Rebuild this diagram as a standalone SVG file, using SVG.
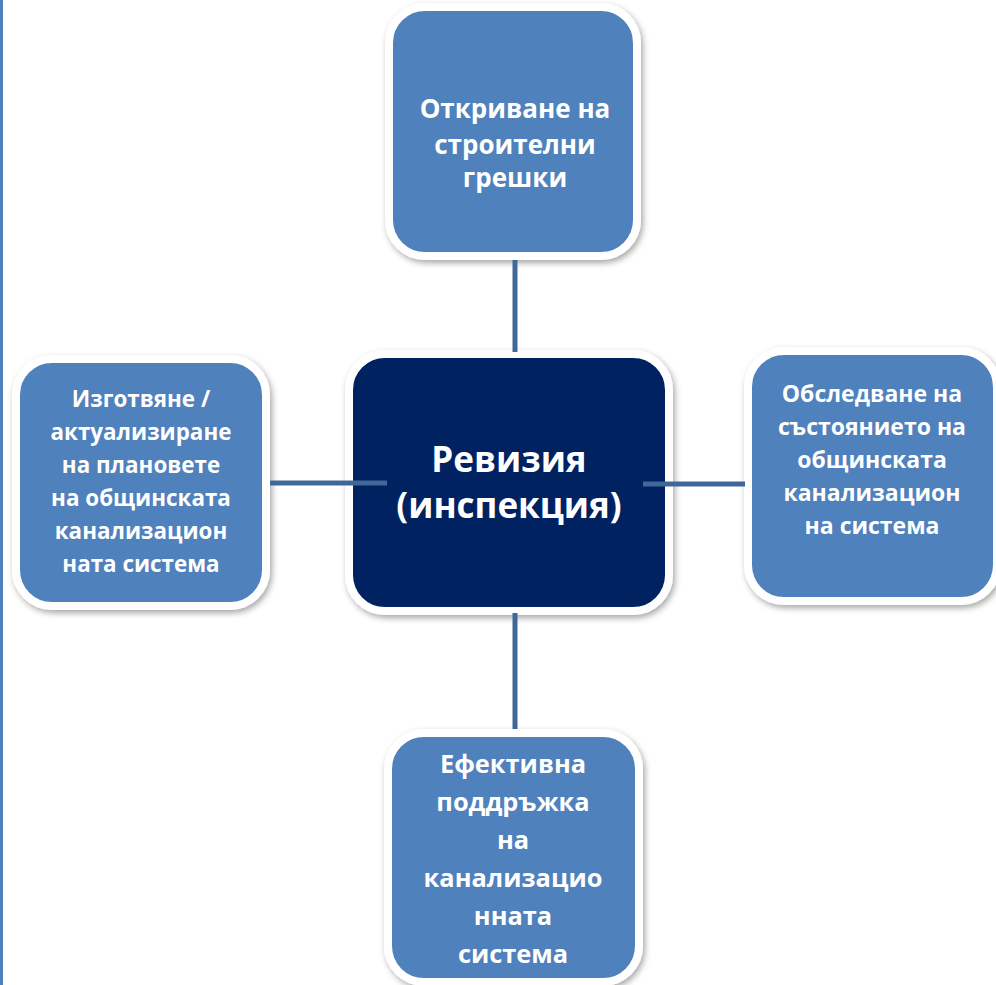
<svg xmlns="http://www.w3.org/2000/svg" width="996" height="985" viewBox="0 0 996 985">
<defs>
<filter id="sh" x="-10%" y="-10%" width="125%" height="125%">
<feDropShadow dx="2" dy="3" stdDeviation="3" flood-color="#000" flood-opacity="0.35"/>
</filter>
<style>
.box{fill:#4f81bd;stroke:#fff;stroke-width:8;filter:url(#sh)}
.ctr{fill:#002060;stroke:#fff;stroke-width:8;filter:url(#sh)}
.t{font-family:"Open Sans","Noto Sans",sans-serif;font-weight:bold;fill:#fff;text-anchor:middle;font-size:23px}
.tc{font-size:35px}
.tt{font-size:26px}
.tl{font-size:22.4px}
.tb{font-size:25.4px}
.ln{stroke:#3f6898;stroke-width:5;fill:none}
</style>
</defs>
<rect width="996" height="985" fill="#fff"/>
<line x1="1.5" y1="0" x2="1.5" y2="985" stroke="#4f81bd" stroke-width="3"/>
<g id="n-top">
<rect class="box" x="389" y="7" width="248" height="249" rx="36"/>
<text class="t tt" x="515" y="118">Откриване на</text>
<text class="t tt" x="515" y="154">строителни</text>
<text class="t tt" x="515" y="187">грешки</text>
</g>
<g id="n-left">
<rect class="box" x="16" y="359" width="250" height="247" rx="36"/>
<text class="t tl" x="141" y="407">Изготвяне /</text>
<text class="t tl" x="141" y="440">актуализиране</text>
<text class="t tl" x="141" y="473">на плановете</text>
<text class="t tl" x="141" y="506">на общинската</text>
<text class="t tl" x="141" y="539">канализацион</text>
<text class="t tl" x="141" y="572">ната система</text>
</g>
<g id="n-right">
<rect class="box" x="748" y="351" width="249" height="250" rx="36"/>
<text class="t" x="872" y="402">Обследване на</text>
<text class="t" x="872" y="435">състоянието на</text>
<text class="t" x="872" y="468">общинската</text>
<text class="t" x="872" y="501">канализацион</text>
<text class="t" x="872" y="534">на система</text>
</g>
<g id="n-bottom">
<rect class="box" x="388" y="733" width="251" height="249" rx="36"/>
<text class="t tb" x="513" y="773">Ефективна</text>
<text class="t tb" x="513" y="811">поддръжка</text>
<text class="t tb" x="513" y="849">на</text>
<text class="t tb" x="513" y="887">канализацио</text>
<text class="t tb" x="513" y="925">нната</text>
<text class="t tb" x="513" y="963">система</text>
</g>
<g id="n-center">
<rect class="ctr" x="349" y="354" width="320" height="257" rx="36"/>
<text class="t tc" x="509" y="472">Ревизия</text>
<text class="t tc" x="509" y="518">(инспекция)</text>
</g>
<g id="connectors">
<line class="ln" x1="515" y1="260" x2="515" y2="352"/>
<line class="ln" x1="515" y1="613" x2="515" y2="729"/>
<line class="ln" x1="270" y1="483" x2="387" y2="483"/>
<line class="ln" x1="643" y1="484" x2="745" y2="484"/>
</g>
</svg>
